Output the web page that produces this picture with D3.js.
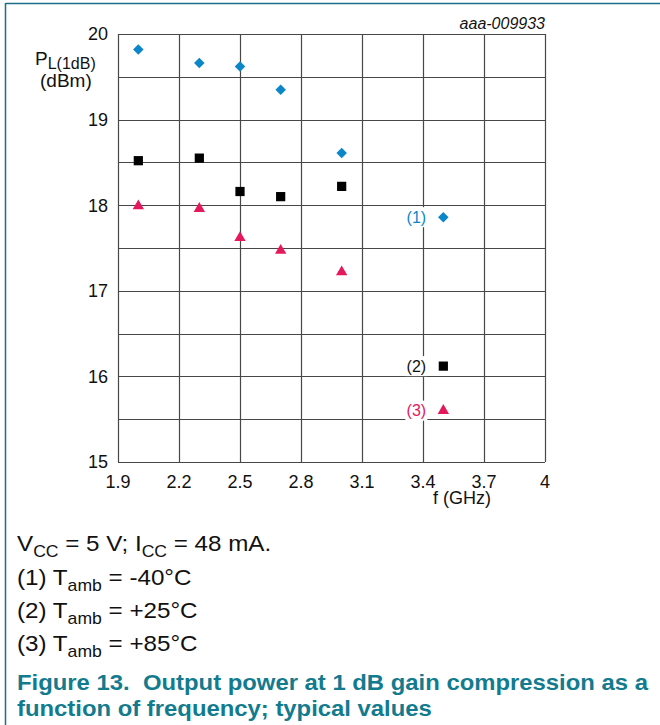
<!DOCTYPE html>
<html><head><meta charset="utf-8">
<script src="https://cdn.jsdelivr.net/npm/d3@7"></script>
<style>body{margin:0;background:#fff}svg{display:block}</style>
</head><body>
<svg id="c" width="660" height="725"></svg>
<script>
const freqs = [2.0, 2.3, 2.5, 2.7, 3.0, 3.5];
const series1 = [19.82, 19.66, 19.62, 19.35, 18.61, 17.86]; // -40°C
const series2 = [18.52, 18.55, 18.16, 18.10, 18.22, 16.12]; // +25°C
const series3 = [17.99, 17.96, 17.62, 17.47, 17.22, 15.60]; // +85°C
const xTicks = [1.9, 2.2, 2.5, 2.8, 3.1, 3.4, 3.7, 4];
const xTickLabels = ["1.9","2.2","2.5","2.8","3.1","3.4","3.7","4"];
const yTicks = [15, 16, 17, 18, 19, 20];
const yGrid = [15,15.5,16,16.5,17,17.5,18,18.5,19,19.5,20];
const labelNames = ["(1)","(2)","(3)"];
const temps = ["-40°C","+25°C","+85°C"];

const svg = d3.select("#c");
const F = "Arial, 'Liberation Sans', sans-serif";
const teal = "#1a6f86";
const blue = "#0a86c9", red = "#e6185c";

// frame
svg.append("line").attr("x1",5.5).attr("x2",660).attr("y1",3.5).attr("y2",3.5).attr("stroke",teal).attr("stroke-width",1.5);
svg.append("line").attr("x1",5.5).attr("x2",5.5).attr("y1",3).attr("y2",725).attr("stroke",teal).attr("stroke-width",1.5);

const x = d3.scaleLinear().domain([1.9,4]).range([118,545]);
const y = d3.scaleLinear().domain([15,20]).range([462,34]);

const g = svg.append("g");
g.selectAll(".vg").data(xTicks).join("line")
 .attr("x1",d=>Math.round(x(d))+0.5).attr("x2",d=>Math.round(x(d))+0.5)
 .attr("y1",y(20)).attr("y2",y(15)).attr("stroke","#474747").attr("stroke-width",1.2);
g.selectAll(".hg").data(yGrid).join("line")
 .attr("y1",d=>Math.round(y(d))+0.5).attr("y2",d=>Math.round(y(d))+0.5)
 .attr("x1",x(1.9)).attr("x2",x(4)).attr("stroke","#474747").attr("stroke-width",1.2);

// y tick labels
g.selectAll(".yt").data(yTicks).join("text")
 .attr("x",108).attr("y",d=>y(d)).attr("dy","0.36em").attr("text-anchor","end")
 .attr("font-family",F).attr("font-size",18).attr("fill","#111").text(d=>d);
// x tick labels
g.selectAll(".xt").data(xTicks).join("text")
 .attr("x",d=>x(d)).attr("y",488).attr("text-anchor","middle")
 .attr("font-family",F).attr("font-size",18).attr("fill","#111").text((d,i)=>xTickLabels[i]);
g.append("text").attr("x",462).attr("y",504).attr("text-anchor","middle")
 .attr("font-family",F).attr("font-size",18).attr("fill","#111").text("f (GHz)");

// y axis label
const yl = g.append("text").attr("x",35).attr("y",65).attr("font-family",F).attr("font-size",19).attr("fill","#111");
yl.append("tspan").text("P");
yl.append("tspan").attr("font-size",16).attr("dy",4).text("L(1dB)");
g.append("text").attr("x",40).attr("y",87).attr("font-family",F).attr("font-size",19).attr("fill","#111").text("(dBm)");

g.append("text").attr("x",545).attr("y",29).attr("text-anchor","end").attr("font-family",F)
 .attr("font-style","italic").attr("font-size",16).attr("fill","#111").text("aaa-009933");

// markers
g.selectAll(".s1").data(freqs).join("path")
 .attr("transform",(d,i)=>`translate(${x(d)},${y(series1[i])})`)
 .attr("d",d3.symbol(d3.symbolDiamond2,70)()).attr("fill",blue);
g.selectAll(".s2").data(freqs).join("path")
 .attr("transform",(d,i)=>`translate(${x(d)},${y(series2[i])})`)
 .attr("d",d3.symbol(d3.symbolSquare,85)()).attr("fill","#000");
g.selectAll(".s3").data(freqs).join("path")
 .attr("transform",(d,i)=>`translate(${x(d)},${y(series3[i])})`)
 .attr("d",d3.symbol(d3.symbolTriangle,56)()).attr("fill",red);

// series labels
const last = freqs.length-1;
const lbls = [
 {t:labelNames[0], v:series1[last], c:blue},
 {t:labelNames[1], v:series2[last], c:"#111"},
 {t:labelNames[2], v:series3[last], c:red}
];
lbls.forEach(l=>{
  g.append("rect").attr("x",x(3.5)-38).attr("y",y(l.v)-10).attr("width",22).attr("height",20).attr("fill","#fff");
  g.append("text").attr("x",x(3.5)-27).attr("y",y(l.v)).attr("dy","0.35em").attr("text-anchor","middle")
   .attr("font-family",F).attr("font-size",16).attr("fill",l.c).text(l.t);
});

// notes (horizontally stretched like the reference)
const notes = svg.append("g").attr("transform","translate(17,0) scale(1.1,1)")
  .attr("font-family",F).attr("font-size",22).attr("fill","#111");
const n1 = notes.append("text").attr("x",0).attr("y",551);
n1.append("tspan").text("V");
n1.append("tspan").attr("font-size",16).attr("dy",6).text("CC");
n1.append("tspan").attr("dy",-6).text(" = 5 V; I");
n1.append("tspan").attr("font-size",16).attr("dy",6).text("CC");
n1.append("tspan").attr("dy",-6).text(" = 48 mA.");
temps.forEach((t,i)=>{
  const tx = notes.append("text").attr("x",0).attr("y",585+i*33);
  tx.append("tspan").text(labelNames[i]+" T");
  tx.append("tspan").attr("font-size",16).attr("dy",6).text("amb");
  tx.append("tspan").attr("dy",-6).text(" = "+t);
});
const cap = svg.append("g").attr("transform","translate(17,0) scale(1.085,1)")
  .attr("font-family",F).attr("font-size",22).attr("font-weight","bold").attr("fill","#137b8e");
cap.append("text").attr("x",0).attr("y",690).attr("xml:space","preserve").text("Figure 13.  Output power at 1 dB gain compression as a");
cap.append("text").attr("x",0).attr("y",716).text("function of frequency; typical values");
</script>
</body></html>
